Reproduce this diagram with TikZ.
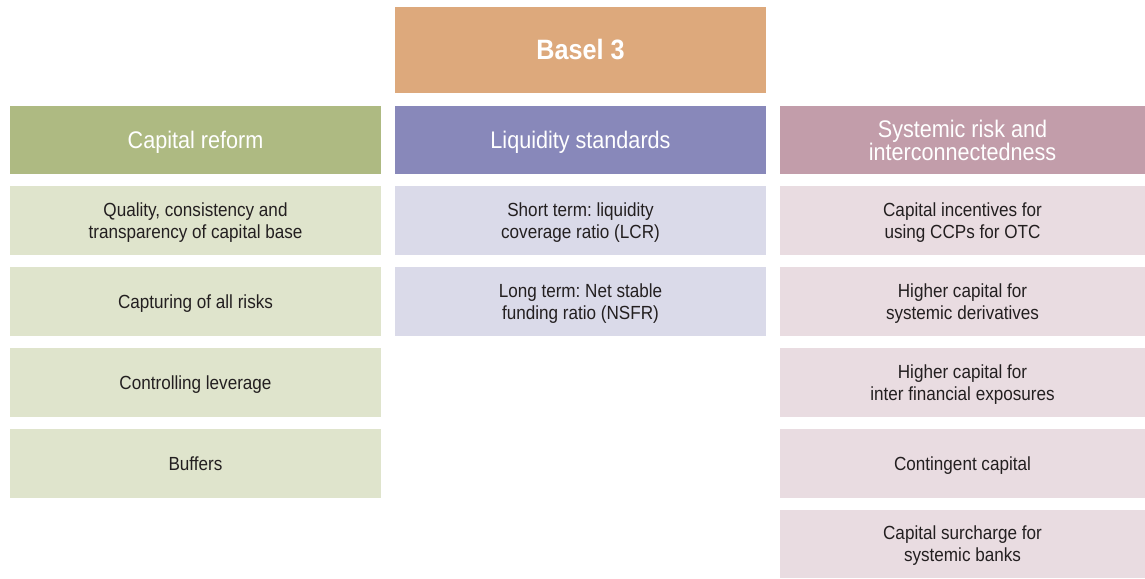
\documentclass[tikz,border=0pt]{standalone}
\usepackage{fontspec}
\setmainfont{Liberation Sans}[FakeStretch=0.9]
\frenchspacing
\definecolor{baselc}{HTML}{DDA97C}
\definecolor{capH}{HTML}{AEBA82}
\definecolor{capB}{HTML}{DFE4CC}
\definecolor{liqH}{HTML}{8888BA}
\definecolor{liqB}{HTML}{DADAE9}
\definecolor{sysH}{HTML}{C29DAA}
\definecolor{sysB}{HTML}{E9DCE1}
\definecolor{txt}{HTML}{231F20}
\begin{document}
\begin{tikzpicture}[x=1pt,y=-1pt,
  cell/.style={rectangle, inner sep=0pt, align=center, minimum height=69pt},
  head/.style={cell, text=white, minimum height=68pt, text depth=0pt, font=\fontsize{24}{21}\selectfont},
  item/.style={cell, text=txt, text depth=0pt, font=\fontsize{19}{22}\selectfont},
  wide/.style={minimum width=371pt},
  narrow/.style={minimum width=365pt}]
\useasboundingbox (0,0) rectangle (1145,578);
\node[cell, wide, fill=baselc, text=white, minimum height=86pt, font=\fontsize{28}{30}\selectfont\bfseries] (basel) at (580.5,50) {Basel 3};
% headers
\node[head, wide, fill=capH] (capital) at (195.5,140) {Capital reform};
\node[head, wide, fill=liqH] (liquidity) at (580.5,140) {Liquidity standards};
\node[head, narrow, fill=sysH] (systemic) at (962.5,140) {Systemic risk and\\interconnectedness};
% capital column
\node[item, wide, fill=capB] (c1) at (195.5,220.5) {Quality, consistency and\\transparency of capital base};
\node[item, wide, fill=capB] (c2) at (195.5,301.5) {Capturing of all risks};
\node[item, wide, fill=capB] (c3) at (195.5,382.5) {Controlling leverage};
\node[item, wide, fill=capB] (c4) at (195.5,463.5) {Buffers};
% liquidity column
\node[item, wide, fill=liqB] (l1) at (580.5,220.5) {Short term: liquidity\\coverage ratio (LCR)};
\node[item, wide, fill=liqB] (l2) at (580.5,301.5) {Long term: Net stable\\funding ratio (NSFR)};
% systemic column
\node[item, narrow, fill=sysB] (s1) at (962.5,220.5) {Capital incentives for\\using CCPs for OTC};
\node[item, narrow, fill=sysB] (s2) at (962.5,301.5) {Higher capital for\\systemic derivatives};
\node[item, narrow, fill=sysB] (s3) at (962.5,382.5) {Higher capital for\\inter financial exposures};
\node[item, narrow, fill=sysB] (s4) at (962.5,463.5) {Contingent capital};
\node[item, narrow, fill=sysB, minimum height=68pt] (s5) at (962.5,544) {Capital surcharge for\\systemic banks};
\end{tikzpicture}
\end{document}
